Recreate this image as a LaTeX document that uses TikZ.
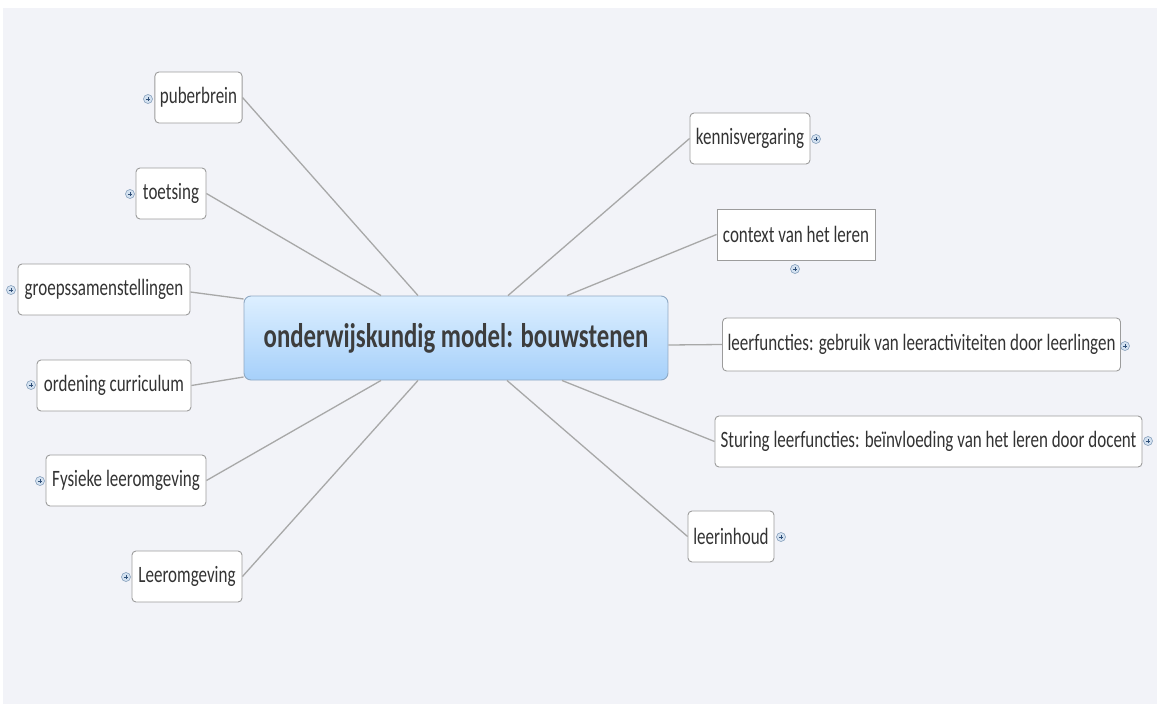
\documentclass[tikz,border=0pt]{standalone}
\usepackage{fontspec}
\usepackage{graphicx}
\setmainfont{Carlito}
\usetikzlibrary{calc}
\definecolor{bg}{HTML}{F2F3F8}
\definecolor{linec}{HTML}{A8A8A8}
\definecolor{boxc}{HTML}{9C9C9C}
\definecolor{txt}{HTML}{333333}
\definecolor{ctop}{HTML}{DDEFFF}
\definecolor{cbot}{HTML}{A6D0FA}
\definecolor{cborder}{HTML}{8FA9C4}
\definecolor{plusfill}{HTML}{D3E1F0}
\definecolor{plusdraw}{HTML}{7A96B4}
\definecolor{plusmark}{HTML}{2F4F78}
\newcommand\vstretch[1]{\scalebox{1}[1.38]{#1}}
\tikzset{
  topic/.style={draw=boxc, line width=0.9pt, fill=white, rounded corners=4pt,
    minimum height=51pt, inner xsep=5pt, inner ysep=0pt, text=txt,
    font=\fontsize{17pt}{17pt}\selectfont, anchor=center},
  sqtopic/.style={topic, rounded corners=0pt},
  central/.style={draw=cborder, line width=0.9pt, top color=ctop, bottom color=cbot,
    rounded corners=7pt, minimum width=424pt, minimum height=84pt, text=txt!95,
    font=\fontsize{24.8pt}{24.8pt}\selectfont\bfseries},
  conn/.style={draw=linec, line width=1.3pt},
  plusicon/.style={circle, draw=plusdraw, line width=0.5pt, fill=plusfill,
    minimum size=9pt, inner sep=0pt,
    path picture={\draw[plusmark, line width=0.7pt]
      ([xshift=-2.2pt]path picture bounding box.center) -- ([xshift=2.2pt]path picture bounding box.center)
      ([yshift=-2.2pt]path picture bounding box.center) -- ([yshift=2.2pt]path picture bounding box.center);}},
}
\begin{document}
\begin{tikzpicture}[x=1pt,y=-1pt]
\useasboundingbox (0,0) rectangle (1157,704);
\fill[white] (0,0) rectangle (1157,704);
\fill[bg] (3,8) rectangle (1157,704);

\node[central] (c) at (456,338) {\vstretch{onderwijskundig model: bouwstenen}};

% left
\node[topic, minimum width=87pt] (pub) at (198.5,97.5) {\vstretch{puberbrein}};
\node[topic, minimum width=70pt] (toe) at (171,193.5) {\vstretch{toetsing}};
\node[topic, minimum width=172pt] (gro) at (104,289.5) {\vstretch{groepssamenstellingen}};
\node[topic, minimum width=154pt] (ord) at (114,385.5) {\vstretch{ordening curriculum}};
\node[topic, minimum width=160pt] (fys) at (126,480.5) {\vstretch{Fysieke leeromgeving}};
\node[topic, minimum width=110pt] (lee) at (187,576.5) {\vstretch{Leeromgeving}};

% right
\node[topic, minimum width=120pt] (ken) at (750,138.5) {\vstretch{kennisvergaring}};
\node[sqtopic, minimum width=158pt] (con) at (796,234.5) {\vstretch{context van het leren}};
\node[topic, minimum width=395pt, minimum height=53pt] (lf) at (921.5,344.5) {\vstretch{leerfuncties: gebruik van leeractiviteiten door leerlingen}};
\node[topic, minimum width=427pt] (stu) at (928.5,441.5) {\vstretch{Sturing leerfuncties: beïnvloeding van het leren door docent}};
\node[topic, minimum width=86pt] (lin) at (731,536.5) {\vstretch{leerinhoud}};

% plus icons
\node[plusicon] (ppub) at (148,99) {};
\node[plusicon] (ptoe) at (130,194) {};
\node[plusicon] (pgro) at (11,290) {};
\node[plusicon] (pord) at (31,385) {};
\node[plusicon] (pfys) at (40,481) {};
\node[plusicon] (plee) at (126,577) {};
\node[plusicon] (pken) at (816,139) {};
\node[plusicon] (pcon) at (795,269) {};
\node[plusicon] (plf) at (1125,346) {};
\node[plusicon] (pstu) at (1148,441) {};
\node[plusicon] (plin) at (781,537) {};

% connectors
\draw[conn] (pub.east) -- ([xshift=-38pt]c.north);
\draw[conn] (toe.east) -- ([xshift=-75pt]c.north);
\draw[conn] ([yshift=-2.5pt]gro.east) -- ([yshift=39pt]c.west);
\draw[conn] (ord.east) -- ([yshift=-39pt]c.west);
\draw[conn] (fys.east) -- ([xshift=-75pt]c.south);
\draw[conn] (lee.east) -- ([xshift=-38pt]c.south);
\draw[conn] (ken.west) -- ([xshift=52pt]c.north);
\draw[conn] (con.west) -- ([xshift=111pt]c.north);
\draw[conn] (lf.west) -- ([yshift=-7pt]c.east);
\draw[conn] (stu.west) -- ([xshift=106pt]c.south);
\draw[conn] (lin.west) -- ([xshift=51pt]c.south);
\end{tikzpicture}
\end{document}
